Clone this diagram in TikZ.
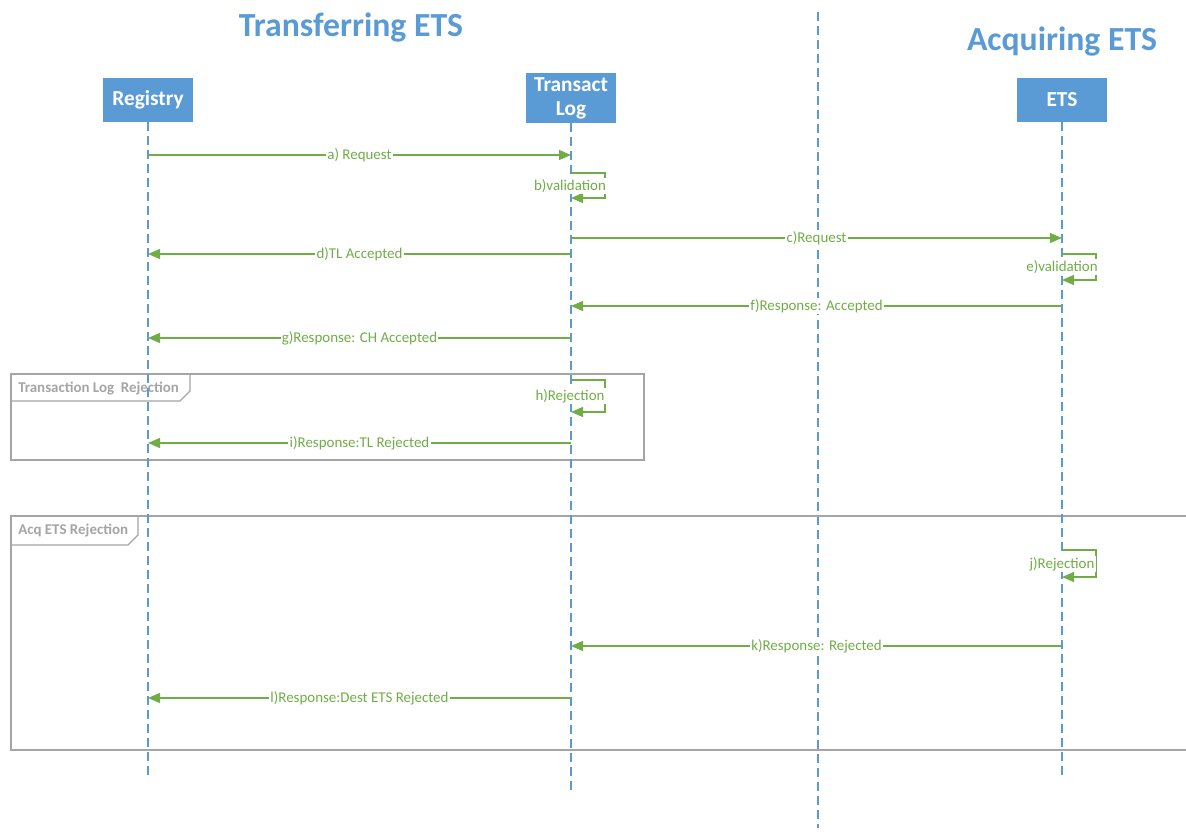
\documentclass[tikz,border=0pt]{standalone}
\usepackage{fontspec}
\setmainfont{Carlito}
\usetikzlibrary{arrows.meta}
\definecolor{msggreen}{RGB}{112,173,71}
\definecolor{headblue}{RGB}{91,155,213}
\definecolor{framegray}{RGB}{165,165,165}
\tikzset{
  title/.style={text=headblue, font=\bfseries\fontsize{25.3}{30}\selectfont},
  head/.style={fill=headblue, text=white, font=\bfseries\fontsize{16}{18}\selectfont,
    minimum width=67.5pt, minimum height=33pt, inner sep=0pt, align=center},
  lifeline/.style={headblue, line width=0.8pt, dash pattern=on 6.5pt off 4pt},
  msg/.style={msggreen, line width=0.9pt, -{Triangle[length=9pt,width=7.5pt]}},
  msglabel/.style={fill=white, text=msggreen, font=\fontsize{11.2}{13}\selectfont, inner sep=1pt},
  framebox/.style={framegray, line width=0.9pt},
  framelabel/.style={text=framegray, font=\bfseries\fontsize{11.2}{13}\selectfont, anchor=west, inner sep=0pt}
}
\begin{document}
\begin{tikzpicture}[x=0.75pt,y=-0.75pt]
\clip (0,0) rectangle (1186,839);
\fill[white] (0,0) rectangle (1186,839);

% titles
\node[title] (trans) at (351,28) {Transferring ETS};
\node[title] (acq) at (1062,42) {Acquiring ETS};

% divider
\coordinate (div-top) at (818,12);
\coordinate (div-bot) at (818,828);
\draw[lifeline] (div-top) -- (div-bot);

% frames
\draw[framebox] (11,374) rectangle (644,460);
\draw[framebox] (11,401) -- (180,401) -- (190,391) -- (190,374);
\node[framelabel] (tlrej) at (18,389) {Transaction Log\ \ Rejection};
\draw[framebox] (1200,516) -- (11,516) -- (11,750) -- (1200,750);
\draw[framebox] (11,545) -- (128,545) -- (138,535) -- (138,516);
\node[framelabel] (acqrej) at (18,531) {Acq ETS Rejection};

% lifelines
\node[head] (reg) at (148,100) {Registry};
\node[head, minimum height=37.5pt] (tl) at (571,98) {Transact\\Log};
\node[head] (ets) at (1062,100) {ETS};
\coordinate (reg-end) at (148,780);
\coordinate (tl-end) at (571,790);
\coordinate (ets-end) at (1062,780);
\draw[lifeline] (reg) -- (reg-end);
\draw[lifeline] (tl) -- (tl-end);
\draw[lifeline] (ets) -- (ets-end);

% messages
\coordinate (a-s) at (148,155); \coordinate (a-e) at (571,155);
\draw[msg] (a-s) -- node[msglabel] {a) Request} (a-e);

\coordinate (b-s) at (571,173); \coordinate (b-e) at (571,198);
\draw[msg] (b-s) -- ++(34,0) |- (b-e);
\node[msglabel] (b-lab) at (570,186) {b)validation};

\coordinate (c-s) at (571,238); \coordinate (c-e) at (1062,238);
\draw[msg] (c-s) -- node[msglabel] {c)Request} (c-e);

\coordinate (d-s) at (571,254); \coordinate (d-e) at (148,254);
\draw[msg] (d-s) -- node[msglabel] {d)TL Accepted} (d-e);

\coordinate (e-s) at (1062,254); \coordinate (e-e) at (1062,280);
\draw[msg] (e-s) -- ++(34,0) |- (e-e);
\node[msglabel] (e-lab) at (1062,267) {e)validation};

\coordinate (f-s) at (1062,306); \coordinate (f-e) at (571,306);
\draw[msg] (f-s) -- node[msglabel] {f)Response: Accepted} (f-e);

\coordinate (g-s) at (571,338); \coordinate (g-e) at (148,338);
\draw[msg] (g-s) -- node[msglabel] {g)Response: CH Accepted} (g-e);

\coordinate (h-s) at (571,380); \coordinate (h-e) at (571,412);
\draw[msg] (h-s) -- ++(34,0) |- (h-e);
\node[msglabel] (h-lab) at (570,396) {h)Rejection};

\coordinate (i-s) at (571,443); \coordinate (i-e) at (148,443);
\draw[msg] (i-s) -- node[msglabel] {i)Response:TL Rejected} (i-e);

\coordinate (j-s) at (1062,550); \coordinate (j-e) at (1062,577);
\draw[msg] (j-s) -- ++(34,0) |- (j-e);
\node[msglabel] (j-lab) at (1062,564) {j)Rejection};

\coordinate (k-s) at (1062,646); \coordinate (k-e) at (571,646);
\draw[msg] (k-s) -- node[msglabel] {k)Response: Rejected} (k-e);

\coordinate (l-s) at (571,698); \coordinate (l-e) at (148,698);
\draw[msg] (l-s) -- node[msglabel] {l)Response:Dest ETS Rejected} (l-e);
\end{tikzpicture}
\end{document}
